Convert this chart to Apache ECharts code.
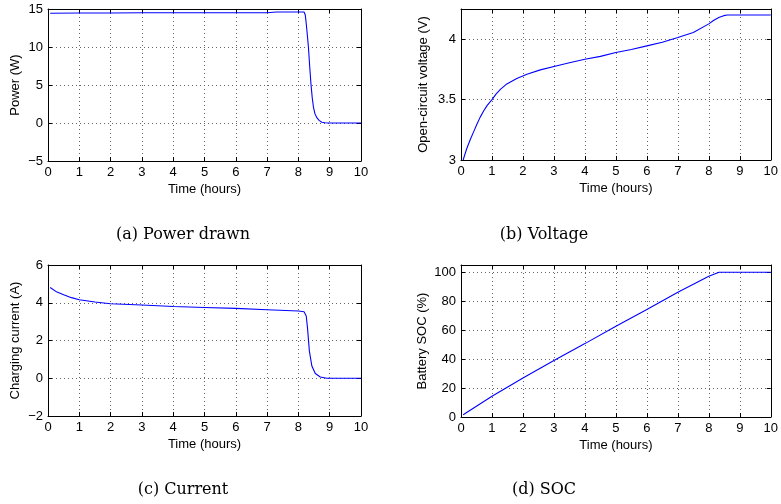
<!DOCTYPE html>
<html>
<head>
<meta charset="utf-8">
<script src="https://cdn.jsdelivr.net/npm/echarts@6/dist/echarts.min.js"></script>
<style>
html,body{margin:0;padding:0;background:#fff;}
#chart{width:781px;height:504px;}
</style>
</head>
<body>
<div id="chart"></div>
<script>
// ---- Data ----
var xTicks = [0,1,2,3,4,5,6,7,8,9,10];

var powerTime  = [0.07, 1, 2, 3, 4, 5, 6, 7, 7.3, 8.0, 8.18, 8.22, 8.25, 8.28, 8.32, 8.36, 8.40, 8.44, 8.48, 8.53, 8.59, 8.66, 8.75, 8.85, 8.95, 9.5, 10];
var powerValue = [14.45, 14.47, 14.48, 14.5, 14.5, 14.5, 14.5, 14.5, 14.6, 14.6, 14.6, 14.2, 13.1, 11.8, 10.0, 7.5, 5.2, 3.4, 2.1, 1.2, 0.7, 0.35, 0.1, 0.03, 0, 0, 0];

var voltTime  = [0.07, 0.13, 0.19, 0.3, 0.41, 0.52, 0.62, 0.73, 0.84, 1.0, 1.13, 1.27, 1.48, 1.8, 2.13, 2.56, 3.1, 3.5, 4, 4.5, 5, 5.5, 6, 6.5, 7, 7.5, 8, 8.15, 8.32, 8.48, 8.6, 10];
var voltValue = [3.0, 3.05, 3.097, 3.17, 3.235, 3.30, 3.355, 3.405, 3.45, 3.50, 3.545, 3.585, 3.63, 3.674, 3.71, 3.746, 3.78, 3.805, 3.834, 3.858, 3.89, 3.915, 3.945, 3.975, 4.014, 4.055, 4.127, 4.155, 4.18, 4.195, 4.2, 4.2];

var currTime  = [0.07, 0.25, 0.5, 0.75, 1, 1.5, 2, 3, 4, 5, 6, 7, 8, 8.18, 8.22, 8.25, 8.29, 8.35, 8.43, 8.54, 8.7, 8.91, 10];
var currValue = [4.81, 4.6, 4.42, 4.27, 4.16, 4.04, 3.95, 3.88, 3.80, 3.75, 3.70, 3.63, 3.56, 3.52, 3.45, 3.3, 2.68, 1.45, 0.65, 0.25, 0.07, 0, 0];

var socTime  = [0.07, 1, 2, 3, 4, 5, 6, 7, 8, 8.33, 10];
var socValue = [1.6, 14.3, 27, 39, 50.7, 62.7, 74.2, 86.2, 97.2, 100, 100];

var yLabels   = ['Power (W)', 'Open-circuit voltage (V)', 'Charging current (A)', 'Battery SOC (%)'];
var xLabel    = 'Time (hours)';
var captions  = ['(a) Power drawn', '(b) Voltage', '(c) Current', '(d) SOC'];

// ---- Layout ----
var panels = [
  {grid:{left:48, top:9,   width:313, height:152}, y:{min:-5, max:15,   interval:5},   yGap:26, t:powerTime, v:powerValue, cap:[183,235]},
  {grid:{left:461,top:9,   width:313, height:151}, y:{min:3,  max:4.25, interval:0.5}, yGap:31, t:voltTime,  v:voltValue,  cap:[544,235]},
  {grid:{left:48, top:265, width:313, height:151}, y:{min:-2, max:6,    interval:2},   yGap:26, t:currTime,  v:currValue,  cap:[183,490]},
  {grid:{left:461,top:265, width:313, height:152}, y:{min:0,  max:105,  interval:20},  yGap:32, t:socTime,   v:socValue,   cap:[544,490]}
];

var FONT = 'Liberation Sans';
var grids=[], xAxes=[], yAxes=[], series=[], graphics=[];
function fmt(v){ return String(v).replace('-', '\u2212'); }

panels.forEach(function(p, i){
  grids.push(p.grid);
  var axisLine = {show:true, onZero:false, lineStyle:{color:'#000', width:1}};
  var tick = {show:true, inside:true, length:4, lineStyle:{color:'#000'}};
  var split = {show:true, lineStyle:{color:'#666', type:[1,3], width:1}};
  xAxes.push({type:'value', gridIndex:i, min:0, max:10, interval:1, position:'bottom',
    axisLine:axisLine, axisTick:tick, splitLine:split,
    axisLabel:{fontFamily:FONT, fontSize:13, color:'#000', margin:5, formatter:fmt},
    name:xLabel, nameLocation:'middle', nameGap:22,
    nameTextStyle:{fontFamily:FONT, fontSize:13, color:'#000'}});
  xAxes.push({type:'value', gridIndex:i, min:0, max:10, interval:1, position:'top',
    axisLine:axisLine, axisTick:tick, splitLine:{show:false}, axisLabel:{show:false}});
  yAxes.push({type:'value', gridIndex:i, min:p.y.min, max:p.y.max, interval:p.y.interval, position:'left',
    axisLine:axisLine, axisTick:tick, splitLine:split,
    axisLabel:{fontFamily:FONT, fontSize:13, color:'#000', margin:5, showMaxLabel: (p.y.max % p.y.interval === 0), formatter:fmt},
    name:yLabels[i], nameLocation:'middle', nameGap:p.yGap, nameRotate:90,
    nameTextStyle:{fontFamily:FONT, fontSize:13, color:'#000'}});
  yAxes.push({type:'value', gridIndex:i, min:p.y.min, max:p.y.max, interval:p.y.interval, position:'right',
    axisLine:axisLine, axisTick:tick, splitLine:{show:false}, axisLabel:{show:false}});
  var data = p.t.map(function(t, k){ return [t, p.v[k]]; });
  series.push({type:'line', xAxisIndex:2*i, yAxisIndex:2*i, data:data, showSymbol:false, symbol:'none',
    smooth:false, lineStyle:{color:'#0000ff', width:1.1}, animation:false, silent:true});
  graphics.push({type:'text', x:p.cap[0], y:p.cap[1],
    style:{text:captions[i], font:'16px "DejaVu Serif"', fill:'#000', align:'center', verticalAlign:'middle'}});
});

var chart = echarts.init(document.getElementById('chart'), null, {renderer:'canvas'});
chart.setOption({
  animation:false,
  backgroundColor:'#fff',
  grid:grids, xAxis:xAxes, yAxis:yAxes, series:series,
  graphic:graphics
});
</script>
</body>
</html>
